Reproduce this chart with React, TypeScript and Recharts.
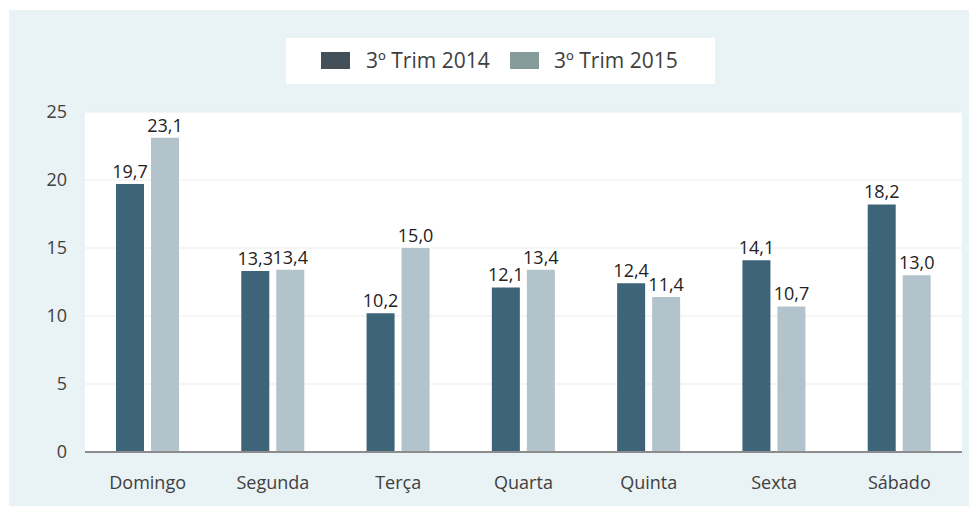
import React from 'react';
import { BarChart, Bar, XAxis, YAxis, CartesianGrid, LabelList } from 'recharts';

const dias = ['Domingo', 'Segunda', 'Terça', 'Quarta', 'Quinta', 'Sexta', 'Sábado'];
const trim2014 = [19.7, 13.3, 10.2, 12.1, 12.4, 14.1, 18.2];
const trim2015 = [23.1, 13.4, 15.0, 13.4, 11.4, 10.7, 13.0];
const yTicks = [0, 5, 10, 15, 20, 25];

const series = [
  { key: 'a2014', name: '3º Trim 2014', fill: '#3d6478', swatch: '#434f59' },
  { key: 'a2015', name: '3º Trim 2015', fill: '#b3c3cc', swatch: '#869c9a' },
];

const data = dias.map((dia, i) => ({ dia, a2014: trim2014[i], a2015: trim2015[i] }));

const FONT = "'Open Sans', sans-serif";
const fmt = (v: number) => v.toFixed(1).replace('.', ',');

const App: React.FC = () => (
  <div style={{ position: 'relative', width: 969, height: 498, fontFamily: FONT }}>
    <div
      style={{
        position: 'absolute',
        left: 1,
        top: 2,
        width: 968,
        height: 496,
        background: '#e9f2f5',
      }}
    >
      {/* legend box */}
      <div
        style={{
          position: 'absolute',
          left: 277,
          top: 28,
          width: 429,
          height: 46,
          background: '#fff',
          fontSize: 21,
          color: '#404040',
        }}
      >
        {series.map((s, i) => (
          <React.Fragment key={s.key}>
            <span
              style={{
                position: 'absolute',
                left: 35 + i * 189,
                top: 14,
                width: 29,
                height: 17,
                background: s.swatch,
              }}
            />
            <span style={{ position: 'absolute', left: 80 + i * 188, top: 6, lineHeight: '32px', whiteSpace: 'nowrap' }}>
              {s.name}
            </span>
          </React.Fragment>
        ))}
      </div>
      <BarChart
        width={968}
        height={496}
        data={data}
        barSize={28}
        barGap={7}
        margin={{ top: 102, right: 15, left: 0, bottom: 19 }}
      >
        <CartesianGrid vertical={false} stroke="#ebebeb" fill="#ffffff" />
        <XAxis
          dataKey="dia"
          height={35}
          tickLine={false}
          tickMargin={18}
          axisLine={{ stroke: '#8c8c8c', strokeWidth: 2 }}
          tick={{ fill: '#404040', fontSize: 18, fontFamily: FONT }}
        />
        <YAxis
          width={76}
          domain={[0, 25]}
          ticks={yTicks}
          axisLine={false}
          tickLine={false}
          tickMargin={12}
          tick={{ fill: '#404040', fontSize: 18, fontFamily: FONT }}
        />
        {series.map((s) => (
          <Bar key={s.key} dataKey={s.key} name={s.name} fill={s.fill} isAnimationActive={false}>
            <LabelList
              dataKey={s.key}
              position="top"
              offset={6}
              formatter={(v: any) => fmt(Number(v))}
              style={{ fill: '#222', fontSize: 18, fontFamily: FONT }}
            />
          </Bar>
        ))}
      </BarChart>
    </div>
  </div>
);

export default App;
